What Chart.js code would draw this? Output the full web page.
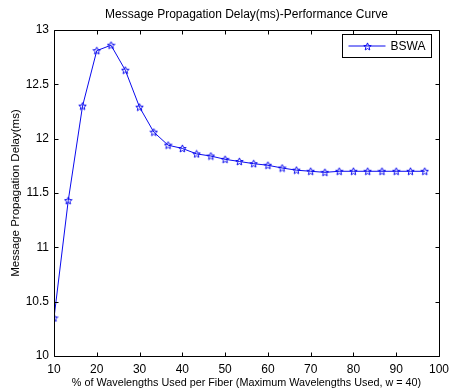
<!DOCTYPE html>
<html>
<head>
<meta charset="utf-8">
<script src="https://cdn.jsdelivr.net/npm/chart.js@4.4.1/dist/chart.umd.min.js"></script>
<style>
  html, body { margin: 0; padding: 0; background: #ffffff; }
  #wrap { width: 455px; height: 389px; }
</style>
</head>
<body>
<div id="wrap"><canvas id="c" width="455" height="389"></canvas></div>
<script>
// Percentage of wavelengths used per fiber (w = 40)
const usagePercent = [10, 13.33, 16.67, 20, 23.33, 26.67, 30, 33.33, 36.67, 40, 43.33, 46.67, 50,
  53.33, 56.67, 60, 63.33, 66.67, 70, 73.33, 76.67, 80, 83.33, 86.67, 90, 93.33, 96.67];
// Message propagation delay (ms) for BSWA
const bswaDelay = [10.35, 11.43, 12.30, 12.81, 12.86, 12.63, 12.29, 12.06, 11.94, 11.91, 11.86, 11.84, 11.81,
  11.79, 11.77, 11.755, 11.73, 11.71, 11.70, 11.69, 11.70, 11.70, 11.70, 11.70, 11.70, 11.70, 11.70];
const xTicks = [10, 20, 30, 40, 50, 60, 70, 80, 90, 100];
const yTicks = [10, 10.5, 11, 11.5, 12, 12.5, 13];

const seriesName = 'BSWA';
const chartTitle = 'Message Propagation Delay(ms)-Performance Curve';
const xTitle = '% of Wavelengths Used per Fiber (Maximum Wavelengths Used, w = 40)';
const yTitle = 'Message Propagation Delay(ms)';

const BLUE = '#0a0aee';
const FONT = '"Liberation Sans", Arial, sans-serif';

// hollow five-pointed star marker
function makeStar(size, color) {
  const cv = document.createElement('canvas');
  cv.width = size; cv.height = size;
  const g = cv.getContext('2d');
  const cx = size / 2, cy = size / 2 + 0.3, R = size / 2 - 0.6, r = R * 0.45;
  g.beginPath();
  for (let i = 0; i < 10; i++) {
    const a = -Math.PI / 2 + i * Math.PI / 5;
    const rad = i % 2 === 0 ? R : r;
    const px = cx + rad * Math.cos(a), py = cy + rad * Math.sin(a);
    if (i === 0) g.moveTo(px, py); else g.lineTo(px, py);
  }
  g.closePath();
  g.strokeStyle = color;
  g.lineWidth = 1;
  g.stroke();
  return cv;
}
const starImg = makeStar(9, BLUE);

// box, inward tick marks on all four sides, title and legend
const matlabFrame = {
  id: 'matlabFrame',
  afterDatasetsDraw(chart) {
    const { ctx, chartArea: a, scales } = chart;
    const L = Math.round(a.left) + 0.5, R = Math.round(a.right) + 0.5;
    const T = Math.round(a.top) + 0.5, B = Math.round(a.bottom) + 0.5;
    const len = 4;
    ctx.save();
    ctx.strokeStyle = '#000';
    ctx.lineWidth = 1;
    ctx.beginPath();
    ctx.rect(L, T, R - L, B - T);
    xTicks.forEach(v => {
      const x = Math.round(scales.x.getPixelForValue(v)) + 0.5;
      ctx.moveTo(x, B); ctx.lineTo(x, B - len);
      ctx.moveTo(x, T); ctx.lineTo(x, T + len);
    });
    yTicks.forEach(v => {
      const y = Math.round(scales.y.getPixelForValue(v)) + 0.5;
      ctx.moveTo(L, y); ctx.lineTo(L + len, y);
      ctx.moveTo(R, y); ctx.lineTo(R - len, y);
    });
    ctx.stroke();

    // title
    ctx.fillStyle = '#000';
    ctx.font = '12px ' + FONT;
    ctx.textAlign = 'center';
    ctx.textBaseline = 'middle';
    ctx.fillText(chartTitle, (a.left + a.right) / 2, 15);

    // legend
    const bx = Math.round(a.right) - 96.5, by = Math.round(a.top) + 4.5, bw = 89, bh = 23;
    ctx.fillStyle = '#fff';
    ctx.fillRect(bx, by, bw, bh);
    ctx.strokeStyle = '#000';
    ctx.strokeRect(bx, by, bw, bh);
    const ly = by + bh / 2;
    ctx.strokeStyle = BLUE;
    ctx.beginPath();
    ctx.moveTo(bx + 6, ly); ctx.lineTo(bx + 43, ly);
    ctx.stroke();
    ctx.drawImage(starImg, Math.round(bx + 24.5 - 4.5), Math.round(ly - 4.5));
    ctx.fillStyle = '#000';
    ctx.font = '12px ' + FONT;
    ctx.textAlign = 'left';
    ctx.fillText(chart.data.datasets[0].label, bx + 48, ly + 0.5);
    ctx.restore();
  }
};

new Chart(document.getElementById('c'), {
  type: 'line',
  data: {
    datasets: [{
      label: seriesName,
      data: usagePercent.map((x, i) => ({ x, y: bswaDelay[i] })),
      borderColor: BLUE,
      borderWidth: 1,
      pointStyle: starImg,
      pointRadius: 4,
      tension: 0,
      fill: false
    }]
  },
  options: {
    responsive: false,
    animation: false,
    devicePixelRatio: 1,
    layout: { padding: { top: 30, right: 11, left: 0, bottom: 0 } },
    plugins: {
      legend: { display: false },
      title: { display: false },
      tooltip: { enabled: false }
    },
    scales: {
      x: {
        type: 'linear',
        min: 10, max: 100,
        afterFit(s) { s.height = 33; },
        afterBuildTicks(s) { s.ticks = xTicks.map(v => ({ value: v })); },
        grid: { display: false, drawTicks: false },
        border: { display: false },
        ticks: { color: '#000', padding: 6, font: { family: FONT, size: 12 }, maxRotation: 0, autoSkip: false,
                 callback: v => String(v) },
        title: { display: true, text: xTitle, color: '#000', font: { family: FONT, size: 10.8, lineHeight: 1 }, padding: { top: 0, bottom: 1 } }
      },
      y: {
        type: 'linear',
        min: 10, max: 13,
        afterFit(s) { s.width = 54; },
        afterBuildTicks(s) { s.ticks = yTicks.map(v => ({ value: v })); },
        grid: { display: false, drawTicks: false },
        border: { display: false },
        ticks: { color: '#000', padding: 5, font: { family: FONT, size: 12 }, autoSkip: false,
                 callback: v => String(v) },
        title: { display: true, text: yTitle, color: '#000', font: { family: FONT, size: 11.5, lineHeight: 1 }, padding: { top: 10, bottom: 0 } }
      }
    }
  },
  plugins: [matlabFrame]
});
</script>
</body>
</html>
